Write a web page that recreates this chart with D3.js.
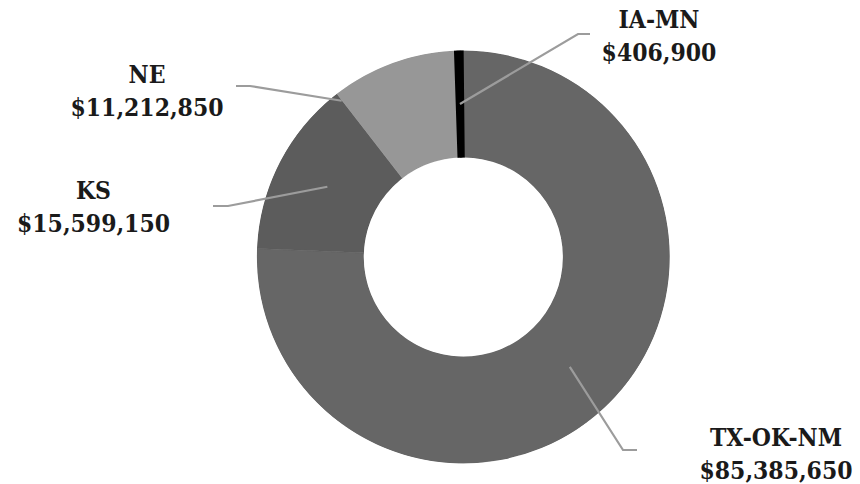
<!DOCTYPE html>
<html>
<head>
<meta charset="utf-8">
<script src="https://cdn.jsdelivr.net/npm/d3@7/dist/d3.min.js"></script>
<style>
  html, body { margin: 0; padding: 0; background: #ffffff; }
  svg { display: block; }
  .lbl { font-family: "DejaVu Serif", "Liberation Serif", serif; font-weight: bold; font-size: 22px; fill: #1a1a1a; }
</style>
</head>
<body>
<svg id="chart" width="860" height="484"></svg>
<script>
// ---- data ----
const categories = ["IA-MN", "TX-OK-NM", "KS", "NE"];
const values = [406900, 85385650, 15599150, 11212850];
const valueLabels = ["$406,900", "$85,385,650", "$15,599,150", "$11,212,850"];
const colors = ["#000000", "#666666", "#5c5c5c", "#979797"];

// ---- layout ----
const W = 860, H = 484;
const cx = 463.3, cy = 257, outerR = 206.5, innerR = 99.5;
const rotationDeg = -1.9;
const textScaleY = 1.13;

// label layout: text centre x, first baseline y; leader elbow and end; optional custom anchor (deg, radius)
const labelLayout = [
  { tx: 659, ty: 28,  elbow: [578, 34],  end: [590, 34] },
  { tx: 776, ty: 446, elbow: [623, 450], end: [637, 450] },
  { tx: 93.5, ty: 199, elbow: [228, 206], end: [213, 206] },
  { tx: 147, ty: 83,  elbow: [250, 86],  end: [236, 86], anchorDeg: 322.1, anchorR: 198 }
];
const lineGap = 33;

const svg = d3.select("#chart");
svg.append("rect").attr("width", W).attr("height", H).attr("fill", "#ffffff");

const rot = rotationDeg * Math.PI / 180;
const pie = d3.pie().sort(null).value(d => d)
  .startAngle(rot).endAngle(2 * Math.PI + rot);
const arcs = pie(values);
const arc = d3.arc().innerRadius(innerR).outerRadius(outerR);

// clip to the ring so the black slice's stroke keeps straight ends
const defs = svg.append("defs");
defs.append("clipPath").attr("id", "ring")
  .append("path")
  .attr("transform", `translate(${cx},${cy})`)
  .attr("d", d3.arc().innerRadius(innerR).outerRadius(outerR)({ startAngle: 0, endAngle: 2 * Math.PI }));

const g = svg.append("g").attr("clip-path", "url(#ring)")
  .append("g").attr("transform", `translate(${cx},${cy})`);
g.selectAll("path.slice").data(arcs).enter().append("path")
  .attr("class", "slice")
  .attr("d", arc)
  .attr("fill", (d, i) => colors[i])
  .attr("stroke", (d, i) => colors[i])
  .attr("stroke-width", (d, i) => i === 0 ? 0 : 0.5);
// black slice on top, widened by a stroke
g.append("path").datum(arcs[0]).attr("d", arc)
  .attr("fill", colors[0]).attr("stroke", colors[0]).attr("stroke-width", 5).attr("stroke-linejoin", "round");

// leader lines
arcs.forEach((a, i) => {
  const L = labelLayout[i];
  let p;
  if (L.anchorDeg !== undefined) {
    const ang = L.anchorDeg * Math.PI / 180;
    p = [cx + Math.sin(ang) * L.anchorR, cy - Math.cos(ang) * L.anchorR];
  } else {
    const c = arc.centroid(a);
    p = [cx + c[0], cy + c[1]];
  }
  svg.append("polyline")
    .attr("points", [p, L.elbow, L.end].map(q => q.join(",")).join(" "))
    .attr("fill", "none")
    .attr("stroke", "#9c9c9c")
    .attr("stroke-width", 2.2);
});

// labels
categories.forEach((c, i) => {
  const L = labelLayout[i];
  const t = svg.append("text").attr("class", "lbl").attr("text-anchor", "middle")
    .attr("transform", `translate(${L.tx},${L.ty}) scale(1,${textScaleY})`);
  t.append("tspan").attr("x", 0).attr("y", 0).text(c);
  t.append("tspan").attr("x", 0).attr("y", lineGap / textScaleY).text(valueLabels[i]);
});
</script>
</body>
</html>
